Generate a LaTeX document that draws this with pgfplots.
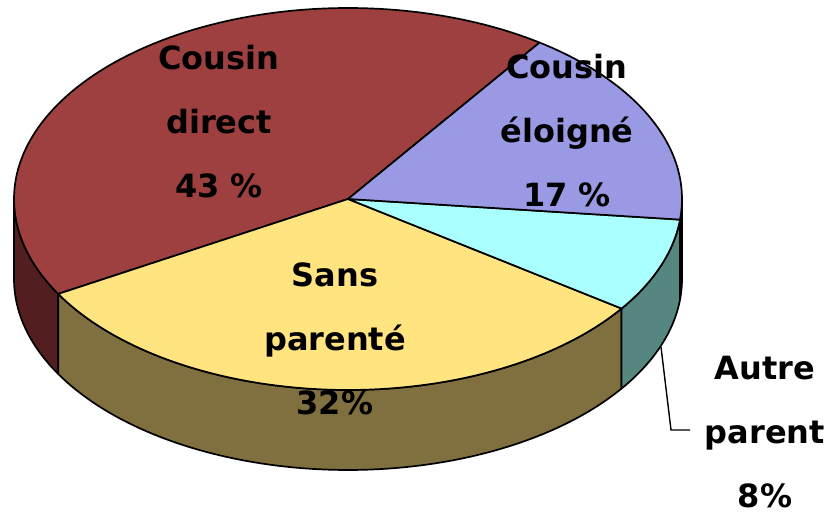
\documentclass[border=0pt]{standalone}
\usepackage{pgfplots}
\pgfplotsset{compat=1.18}
\usepgfplotslibrary{fillbetween}
\usepackage{fontspec}
\setmainfont{DejaVu Sans}
\definecolor{cRed}{RGB}{158,64,64}
\definecolor{cRedS}{RGB}{82,30,32}
\definecolor{cYel}{RGB}{255,228,128}
\definecolor{cYelS}{RGB}{128,112,64}
\definecolor{cCya}{RGB}{170,255,255}
\definecolor{cCyaS}{RGB}{85,135,128}
\definecolor{cBlu}{RGB}{153,153,228}
\definecolor{cBluS}{RGB}{76,76,114}
% shares in percent
\def\pRed{43}
\def\pYel{32}
\def\pCya{8}
\def\pBlu{17}
\begin{document}
\begin{tikzpicture}
\pgfmathsetmacro{\cx}{348}
\pgfmathsetmacro{\cy}{318}
\pgfmathsetmacro{\rx}{334}
\pgfmathsetmacro{\ry}{191}
\pgfmathsetmacro{\dep}{80}
\pgfmathsetmacro{\aO}{55}
\pgfmathsetmacro{\aA}{\aO+\pRed*3.6}
\pgfmathsetmacro{\aB}{\aA+\pYel*3.6}
\pgfmathsetmacro{\aC}{\aB+\pCya*3.6}
\pgfmathsetmacro{\aD}{\aC+\pBlu*3.6}
\begin{axis}[
  width=833pt, height=517pt, scale only axis,
  xmin=0, xmax=833, ymin=0, ymax=517,
  hide axis, clip=false,
]
\tikzset{ol/.style={draw=black, line width=1.7pt, line join=round}}
% ---- sides (front half only) ----
\addplot[draw=none, name path=rt, domain=180:\aA, samples=40] ({\cx+\rx*cos(x)},{\cy+\ry*sin(x)});
\addplot[draw=none, name path=rb, domain=180:\aA, samples=40] ({\cx+\rx*cos(x)},{\cy-\dep+\ry*sin(x)});
\addplot[fill=cRedS, ol] fill between[of=rt and rb];
\addplot[draw=none, name path=yt, domain=\aA:\aB, samples=80] ({\cx+\rx*cos(x)},{\cy+\ry*sin(x)});
\addplot[draw=none, name path=yb, domain=\aA:\aB, samples=80] ({\cx+\rx*cos(x)},{\cy-\dep+\ry*sin(x)});
\addplot[fill=cYelS, ol] fill between[of=yt and yb];
\addplot[draw=none, name path=ct, domain=\aB:\aC, samples=30] ({\cx+\rx*cos(x)},{\cy+\ry*sin(x)});
\addplot[draw=none, name path=cb, domain=\aB:\aC, samples=30] ({\cx+\rx*cos(x)},{\cy-\dep+\ry*sin(x)});
\addplot[fill=cCyaS, ol] fill between[of=ct and cb];
\addplot[draw=none, name path=bt, domain=\aC:360, samples=10] ({\cx+\rx*cos(x)},{\cy+\ry*sin(x)});
\addplot[draw=none, name path=bb, domain=\aC:360, samples=10] ({\cx+\rx*cos(x)},{\cy-\dep+\ry*sin(x)});
\addplot[fill=cBluS, ol] fill between[of=bt and bb];
% ---- top wedges ----
\addplot[fill=cRed, ol, domain=\aO:\aA, samples=100] ({\cx+\rx*cos(x)},{\cy+\ry*sin(x)}) -- (axis cs:\cx,\cy) -- cycle;
\addplot[fill=cYel, ol, domain=\aA:\aB, samples=80] ({\cx+\rx*cos(x)},{\cy+\ry*sin(x)}) -- (axis cs:\cx,\cy) -- cycle;
\addplot[fill=cCya, ol, domain=\aB:\aC, samples=30] ({\cx+\rx*cos(x)},{\cy+\ry*sin(x)}) -- (axis cs:\cx,\cy) -- cycle;
\addplot[fill=cBlu, ol, domain=\aC:\aD, samples=50] ({\cx+\rx*cos(x)},{\cy+\ry*sin(x)}) -- (axis cs:\cx,\cy) -- cycle;
% ---- leader line ----
\addplot[black, line width=1.4pt] coordinates {(661,170) (671,87) (690,87)};
% ---- labels ----
\tikzset{lbl/.style={align=center, font=\fontsize{32}{64}\selectfont\bfseries, inner sep=0pt}}
\node[lbl] at (axis cs:219,395) {Cousin\\direct\\43 \%};
\node[lbl] at (axis cs:567,386) {Cousin\\éloigné\\17 \%};
\node[lbl] at (axis cs:335,178) {Sans\\parenté\\32\%};
\node[lbl] at (axis cs:765,85) {Autre\\parent\\8\%};
\coordinate (ll) at (axis cs:0,0);
\coordinate (ur) at (axis cs:833,517);
\end{axis}
\pgfresetboundingbox
\useasboundingbox (ll) rectangle (ur);
\end{tikzpicture}
\end{document}
